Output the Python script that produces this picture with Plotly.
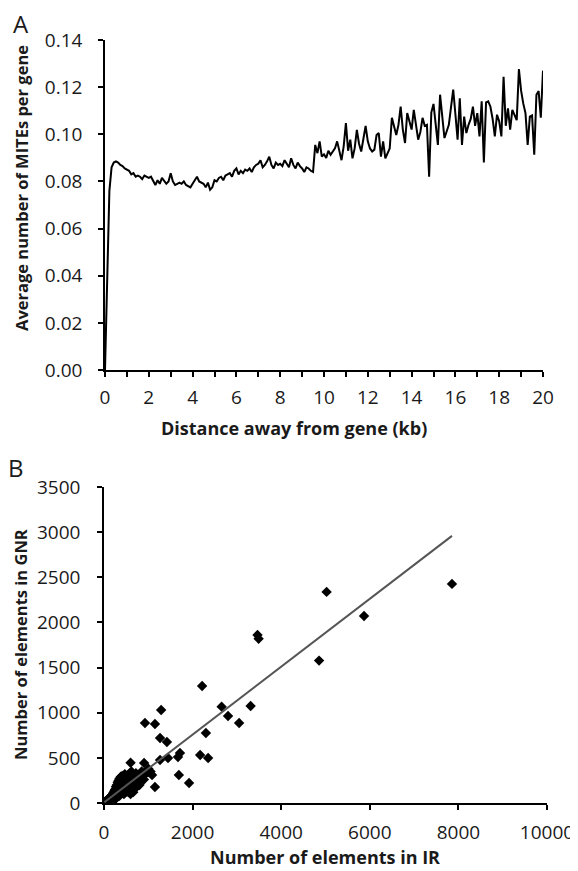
import numpy as np
import plotly.graph_objects as go

# ---------------- Panel A data ----------------
distance_kb = [round(i * 0.1, 1) for i in range(201)]
avg_mites = [
    0.000, 0.040, 0.076, 0.086, 0.088, 0.0885, 0.088, 0.087, 0.0865, 0.0855,
    0.085, 0.0845, 0.083, 0.0835, 0.082, 0.0825, 0.082, 0.081, 0.0825, 0.082,
    0.0815, 0.082, 0.080, 0.0785, 0.0805, 0.079, 0.0815, 0.080, 0.079, 0.080,
    0.0835, 0.080, 0.0785, 0.079, 0.0795, 0.079, 0.080, 0.0785, 0.078, 0.0775,
    0.079, 0.0805, 0.082, 0.080, 0.0795, 0.079, 0.0775, 0.0795, 0.0765, 0.0775,
    0.0805, 0.080, 0.0815, 0.082, 0.0805, 0.0825, 0.083, 0.0835, 0.082, 0.0845,
    0.0855, 0.083, 0.0845, 0.0835, 0.085, 0.0845, 0.0855, 0.084, 0.086, 0.087,
    0.0875, 0.089, 0.086, 0.087, 0.0885, 0.0905, 0.087, 0.0855, 0.088, 0.087,
    0.0875, 0.0865, 0.089, 0.0875, 0.086, 0.0898, 0.087, 0.0855, 0.088, 0.0865,
    0.0855, 0.084, 0.086, 0.0855, 0.0845, 0.084, 0.0955, 0.092, 0.097, 0.0905,
    0.0915, 0.090, 0.093, 0.0913, 0.0925, 0.094, 0.097, 0.093, 0.089, 0.095,
    0.1048, 0.093, 0.0977, 0.0898, 0.094, 0.1019, 0.096, 0.0927, 0.098, 0.1036,
    0.097, 0.094, 0.0927, 0.0935, 0.0997, 0.1005, 0.0905, 0.097, 0.0898, 0.092,
    0.094, 0.107, 0.103, 0.0997, 0.104, 0.1117, 0.102, 0.0963, 0.109, 0.105,
    0.102, 0.1104, 0.104, 0.0977, 0.101, 0.107, 0.1036, 0.104, 0.082, 0.1092,
    0.1129, 0.104, 0.0955, 0.1168, 0.106, 0.0984, 0.1012, 0.104, 0.1115, 0.119,
    0.1085, 0.0977, 0.1153, 0.0955, 0.1075, 0.1005, 0.104, 0.1065, 0.1117, 0.1036,
    0.109, 0.0991, 0.114, 0.088, 0.1135, 0.114, 0.1117, 0.1065, 0.0991, 0.1083,
    0.1055, 0.0991, 0.1244, 0.1036, 0.111, 0.102, 0.1104, 0.108, 0.106, 0.1277,
    0.1185, 0.113, 0.109, 0.0955, 0.1075, 0.108, 0.0913, 0.1168, 0.1183, 0.107,
    0.127,
]
a_xticks = [0, 2, 4, 6, 8, 10, 12, 14, 16, 18, 20]
a_yticks = [0.00, 0.02, 0.04, 0.06, 0.08, 0.10, 0.12, 0.14]

# ---------------- Panel B data ----------------
elements_ir = [
    10, 20, 30, 40, 50, 60, 70, 80, 90, 100, 110, 120, 130, 140, 150, 160, 170, 180,
    190, 200, 210, 220, 230, 240, 250, 260, 270, 280, 290, 300, 310, 320, 330, 340,
    350, 360, 370, 380, 390, 400, 410, 420, 430, 440, 450, 460, 470, 480, 490, 500,
    510, 520, 530, 540, 550, 560, 570, 580, 590, 600, 610, 620, 630, 640, 650, 660,
    680, 700, 720, 750, 780, 800, 850, 880, 900, 950, 1000, 1050,
    250, 350, 450, 550, 650, 700, 600, 655, 745,
    600, 905, 995, 1085, 1150, 1265, 1265, 1445, 1420, 1670, 1715, 1690, 1920,
    2170, 2350, 2300, 925, 1150, 1290, 2215, 2655, 2800, 3050, 3310,
    3465, 3490, 4855, 5025, 5870, 7855,
]
elements_gnr = [
    5, 12, 8, 20, 15, 25, 30, 22, 40, 35, 50, 45, 60, 55, 70, 40, 80, 65,
    95, 75, 110, 90, 130, 100, 150, 120, 180, 140, 200, 160, 230, 110, 250, 180,
    270, 130, 220, 290, 160, 250, 300, 190, 140, 270, 210, 170, 320, 240, 120, 280,
    200, 150, 300, 230, 180, 260, 140, 330, 210, 270, 160, 350, 240, 190, 300, 120,
    280, 230, 330, 270, 310, 200, 350, 300, 260, 330, 380, 350,
    40, 80, 100, 120, 150, 160, 100, 144, 222,
    446, 443, 343, 310, 177, 720, 477, 499, 676, 510, 554, 310, 222,
    532, 499, 776, 886, 875, 1030, 1296, 1067, 964, 886, 1075,
    1860, 1820, 1577, 2338, 2072, 2427,
]
trend_slope = 0.376
trend_intercept = 5.0
b_xticks = [0, 2000, 4000, 6000, 8000, 10000]
b_yticks = [0, 500, 1000, 1500, 2000, 2500, 3000, 3500]

# page body has an 8px margin, so the figure is drawn offset by 8px
OFF = 8
W, H = 578 - OFF, 871 - OFF
def px(x):
    return (x - OFF) / W
def py(y):
    return 1 - (y - OFF) / H

FONT = "Open Sans"
tickfont = dict(family=FONT, size=19, color="#1a1a1a")
xtitlefont = dict(family=FONT, size=18, color="#1a1a1a")
ytitlefont = dict(family=FONT, size=16.5, color="#1a1a1a")

fig = go.Figure()

fig.add_trace(go.Scatter(
    x=distance_kb, y=avg_mites, mode="lines",
    line=dict(color="black", width=2), xaxis="x", yaxis="y", showlegend=False,
))

trend_x = np.array([min(elements_ir), max(elements_ir)])
fig.add_trace(go.Scatter(
    x=elements_ir, y=elements_gnr, mode="markers",
    marker=dict(symbol="diamond", color="black", size=8),
    xaxis="x2", yaxis="y2", showlegend=False,
))
fig.add_trace(go.Scatter(
    x=trend_x, y=trend_slope * trend_x + trend_intercept, mode="lines",
    line=dict(color="#555555", width=2), xaxis="x2", yaxis="y2", showlegend=False,
))

axis_common = dict(
    showline=True, linecolor="black", linewidth=1.5, showgrid=False, zeroline=False,
    ticks="outside", ticklen=5, tickwidth=1.5, tickcolor="black", tickfont=tickfont,
    fixedrange=True, automargin=False,
)

fig.update_layout(
    width=W, height=H, margin=dict(l=0, r=0, t=0, b=0, autoexpand=False),
    paper_bgcolor="white", plot_bgcolor="white",
    xaxis=dict(domain=[px(105), px(543)], anchor="y", range=[0, 20],
               tickvals=a_xticks, ticktext=[str(v) for v in a_xticks],
               minor=dict(dtick=1, ticks="outside", ticklen=5, tickwidth=1.5, tickcolor="black"),
               ticklabelstandoff=4, **axis_common),
    yaxis=dict(domain=[py(370), py(40)], anchor="x", range=[0, 0.14],
               tickvals=a_yticks, ticktext=[f"{v:.2f}" for v in a_yticks],
               ticklabelstandoff=12, **axis_common),
    xaxis2=dict(domain=[px(104), px(547)], anchor="y2", range=[0, 10000],
                tickvals=b_xticks, ticktext=[str(v) for v in b_xticks],
                ticklabelstandoff=6, **axis_common),
    yaxis2=dict(domain=[py(803), py(487)], anchor="x2", range=[0, 3500],
                tickvals=b_yticks, ticktext=[str(v) for v in b_yticks],
                ticklabelstandoff=13, **axis_common),
)

annots = [
    dict(text="A", x=px(21), y=py(24), font=dict(family=FONT, size=24, color="#1a1a1a")),
    dict(text="B", x=px(16), y=py(468), font=dict(family=FONT, size=24, color="#1a1a1a")),
    dict(text="<b>Distance away from gene (kb)</b>", x=px(294), y=py(428), font=xtitlefont),
    dict(text="<b>Average number of MITEs per gene</b>", x=px(21), y=py(188), font=ytitlefont, textangle=-90),
    dict(text="<b>Number of elements in IR</b>", x=px(325), y=py(857), font=xtitlefont),
    dict(text="<b>Number of elements in GNR</b>", x=px(20), y=py(645), font=ytitlefont, textangle=-90),
]
for a in annots:
    fig.add_annotation(xref="paper", yref="paper", showarrow=False,
                       xanchor="center", yanchor="middle", **a)

fig.write_html("out.html")
